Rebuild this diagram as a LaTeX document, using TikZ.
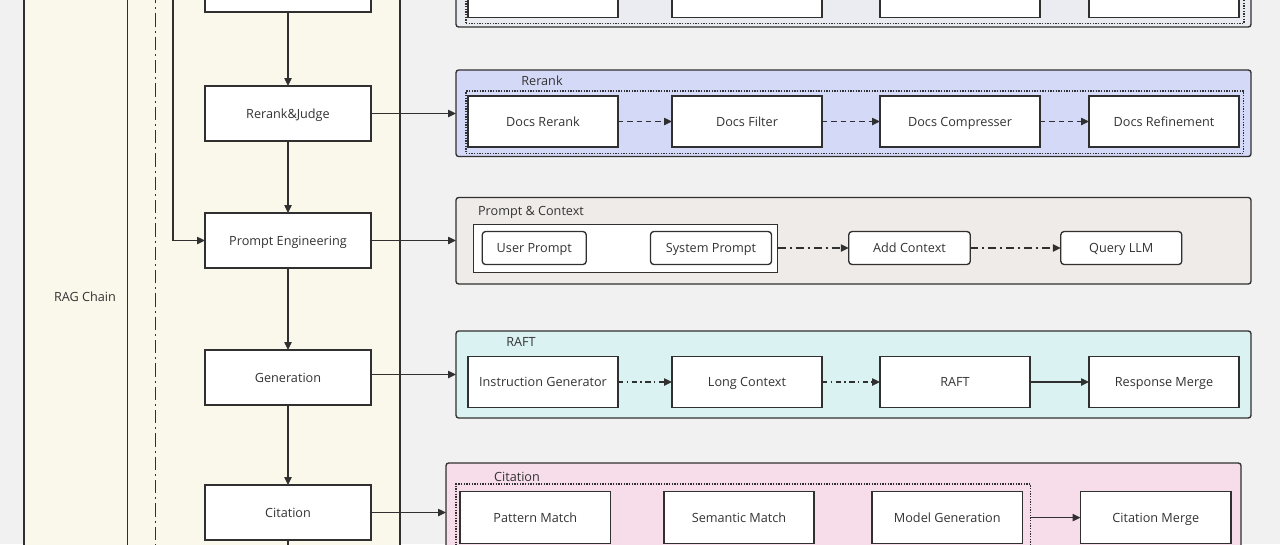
\documentclass[tikz,border=0pt]{standalone}
\usepackage{fontspec}
\setmainfont{Open Sans}
\usetikzlibrary{arrows.meta}
\definecolor{bgc}{RGB}{241,241,241}
\definecolor{lanec}{RGB}{250,247,235}
\definecolor{linec}{RGB}{48,48,48}
\definecolor{txtc}{RGB}{51,51,51}
\definecolor{topc}{RGB}{234,236,242}
\definecolor{rerankc}{RGB}{212,217,247}
\definecolor{promptc}{RGB}{239,235,233}
\definecolor{raftc}{RGB}{219,242,242}
\definecolor{citec}{RGB}{247,220,234}
\tikzset{sz/.style 2 args={minimum width=#1*0.75pt,minimum height=#2*0.75pt}}

\begin{document}
\begin{tikzpicture}[x=0.75pt,y=0.75pt,yscale=-1,xscale=1,
	stage/.style={draw=linec,line width=1pt,fill=white,inner sep=0pt,outer sep=0pt,text=txtc,font=\fontsize{9.5}{11}\selectfont,text height=6.8pt,text depth=0pt},
	pill/.style={stage,rounded corners=2.5pt},
	panel/.style={draw=linec,line width=1pt,rounded corners=2pt,inner sep=0pt,outer sep=0pt},
	grp/.style={draw=linec,line width=1pt,densely dotted,inner sep=0pt,outer sep=0pt},
	lbl/.style={text=txtc,font=\fontsize{9.5}{11}\selectfont,inner sep=0pt,text height=6.8pt,text depth=0pt},
	arr/.style={draw=linec,line width=1pt,-{Triangle[length=6pt,width=5.5pt]}}]
		\useasboundingbox (0,0) rectangle (1280,544);
		\clip (0,0) rectangle (1280,544);
		\fill[bgc] (0,0) rectangle (1280,544);
		% RAG chain lane
		\draw[fill=lanec,draw=linec,line width=1pt] (24,-10) rectangle (400,560);
		\draw[linec,line width=0.7pt] (127,-10) -- (127,560);
		\draw[linec,line width=0.7pt,dash pattern=on 10pt off 3pt on 1.5pt off 3pt] (155,-10) -- (155,560);
		\node[lbl] (ragChain) at (85,297) {RAG Chain};
		\node[stage,sz={166}{55}] (topStage) at (288,-15.5) {};
		\node[stage,sz={166}{55}] (rerankJudge) at (288,113.5) {Rerank\&Judge};
		\node[stage,sz={166}{55}] (promptEng) at (288,240.5) {Prompt Engineering};
		\node[stage,sz={166}{55}] (generation) at (288,377.5) {Generation};
		\node[stage,sz={166}{55}] (citation) at (288,512.5) {Citation};
		\coordinate (chainEnd) at (288,560);
		\coordinate (loopTop) at (173,-10);
		\draw[arr] (topStage) -- (rerankJudge);
		\draw[arr] (rerankJudge) -- (promptEng);
		\draw[arr] (promptEng) -- (generation);
		\draw[arr] (generation) -- (citation);
		\draw[linec,line width=1pt] (citation) -- (chainEnd);
		\draw[arr] (loopTop) |- (promptEng.west);
		% panels
		\node[panel,fill=topc,sz={795}{87}] (topPanel) at (853.5,-16.5) {};
		\node[panel,fill=rerankc,sz={795}{86.5}] (rrPanel) at (853.5,113.25) {};
		\node[panel,fill=promptc,sz={795}{86.5}] (pcPanel) at (853.5,240.75) {};
		\node[panel,fill=raftc,sz={795}{87}] (raftPanel) at (853.5,374.5) {};
		\node[panel,fill=citec,sz={795}{157}] (citePanel) at (843.5,541.5) {};
		\node[grp,sz={778}{73.3}] (topGrp) at (855,-13.35) {};
		\node[grp,sz={777.5}{62.5}] (rrGrp) at (854.75,122.25) {};
		\node[grp,sz={574.5}{116}] (citeGrp) at (743.25,542) {};
		\node[draw=linec,line width=0.7pt,fill=white,inner sep=0pt,outer sep=0pt,sz={304.5}{48}] (pcInner) at (625.25,248) {};
		\node[lbl] (rrLabel) at (542,81) {Rerank};
		\node[lbl] (pcLabel) at (531,211) {Prompt \& Context};
		\node[lbl] (raftLabel) at (521,342) {RAFT};
		\node[lbl] (citeLabel) at (517,477) {Citation};
		% top row
		\node[stage,sz={150}{51.3}] (topA) at (543,-8.35) {};
		\node[stage,sz={150}{51.3}] (topB) at (747,-8.35) {};
		\node[stage,sz={160}{51.3}] (topC) at (960,-8.35) {};
		\node[stage,sz={150}{51.3}] (topD) at (1164,-8.35) {};
		% rerank row
		\node[stage,sz={150}{51}] (docsRerank) at (543,121.5) {Docs Rerank};
		\node[stage,sz={150}{51}] (docsFilter) at (747,121.5) {Docs Filter};
		\node[stage,sz={160}{51}] (docsCompress) at (960,121.5) {Docs Compresser};
		\node[stage,sz={150}{51}] (docsRefine) at (1164,121.5) {Docs Refinement};
		% prompt row
		\node[pill,sz={104}{33}] (userPrompt) at (534.25,248) {User Prompt};
		\node[pill,sz={121}{33}] (sysPrompt) at (711,248) {System Prompt};
		\node[pill,sz={121.5}{33}] (addCtx) at (909.5,248) {Add Context};
		\node[pill,sz={121}{33}] (queryLLM) at (1121.3,248) {Query LLM};
		% raft row
		\node[stage,sz={150}{51}] (instrGen) at (543,382) {Instruction Generator};
		\node[stage,sz={150}{51}] (longCtx) at (747,382) {Long Context};
		\node[stage,sz={150}{51}] (raftStep) at (955,382) {RAFT};
		\node[stage,sz={150}{51}] (respMerge) at (1164,382) {Response Merge};
		% citation row
		\node[stage,sz={150.5}{51.8}] (patternMatch) at (535.25,517.6) {Pattern Match};
		\node[stage,sz={150}{51.8}] (semMatch) at (739,517.6) {Semantic Match};
		\node[stage,sz={150.5}{51.8}] (modelGen) at (947.25,517.6) {Model Generation};
		\node[stage,sz={150.5}{51.8}] (citeMerge) at (1155.75,517.6) {Citation Merge};
		% connectors
		\draw[arr] (rerankJudge.east) -- (rerankJudge.east -| rrPanel.west);
		\draw[arr] (promptEng.east) -- (promptEng.east -| pcPanel.west);
		\draw[arr] (generation.east |- raftPanel.west) -- (raftPanel.west);
		\draw[arr] (citation.east) -- (citation.east -| citePanel.west);
		\foreach \a/\b in {docsRerank/docsFilter,docsFilter/docsCompress,docsCompress/docsRefine}
			\draw[arr,dash pattern=on 4pt off 3pt] (\a) -- (\b);
		\draw[arr,dash pattern=on 6pt off 3pt on 1.5pt off 3pt] (pcInner) -- (addCtx);
		\draw[arr,dash pattern=on 6pt off 3pt on 1.5pt off 3pt] (addCtx) -- (queryLLM);
		\draw[arr,dash pattern=on 4pt off 2.5pt on 1.2pt off 2.5pt] (instrGen) -- (longCtx);
		\draw[arr,dash pattern=on 4pt off 2.5pt on 1.2pt off 2.5pt] (longCtx) -- (raftStep);
		\draw[arr] (raftStep) -- (respMerge);
		\draw[arr] (citeMerge -| citeGrp.east) -- (citeMerge);
\end{tikzpicture}
\end{document}
